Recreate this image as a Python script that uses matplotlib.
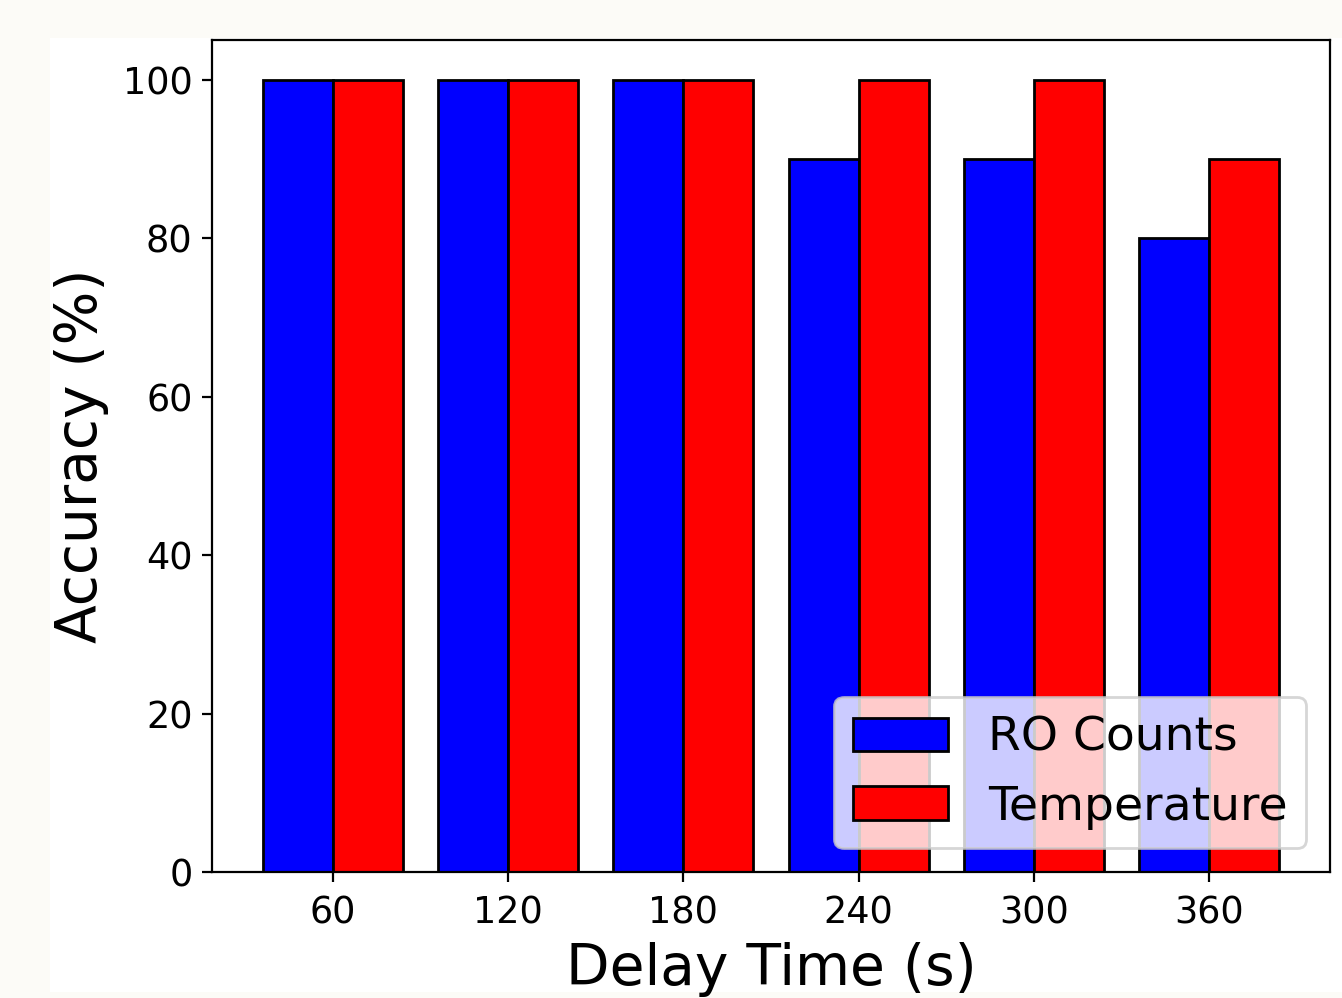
import matplotlib
matplotlib.use("Agg")
import matplotlib.pyplot as plt
from matplotlib.patches import Rectangle
import numpy as np

delays = ["60", "120", "180", "240", "300", "360"]
ro_counts = [100, 100, 100, 90, 90, 80]
temperature = [100, 100, 100, 100, 100, 90]

W, H = 1342, 998
fig = plt.figure(figsize=(W / 200, H / 200), dpi=200, facecolor="#fcfbf7")
# white figure area (reference is a slightly cropped figure on a cream page)
fig.patches.append(Rectangle((50 / W, 1 - 992 / H), 1 - 50 / W, (992 - 38) / H,
                             transform=fig.transFigure, facecolor="white",
                             edgecolor="none", zorder=-1))

ax = fig.add_axes([212 / W, 1 - 872 / H, (1330 - 212) / W, (872 - 40) / H])
x = np.arange(len(delays))
w = 0.4
ax.bar(x - w / 2, ro_counts, w, color="blue", edgecolor="black", linewidth=1, label="RO Counts")
ax.bar(x + w / 2, temperature, w, color="red", edgecolor="black", linewidth=1, label="Temperature")
ax.set_xticks(x)
ax.set_xticklabels(delays)
ax.tick_params(labelsize=13.2)
ax.tick_params(axis="x", pad=4.5)
ax.set_xlabel("Delay Time (s)", fontsize=20.4, labelpad=4.0)
ax.set_ylabel("Accuracy (%)", fontsize=20.4, labelpad=5.0)
ax.legend(loc="lower right", fontsize=17.0, handletextpad=0.85)

fig.savefig("out.png", dpi=200, facecolor=fig.get_facecolor())
